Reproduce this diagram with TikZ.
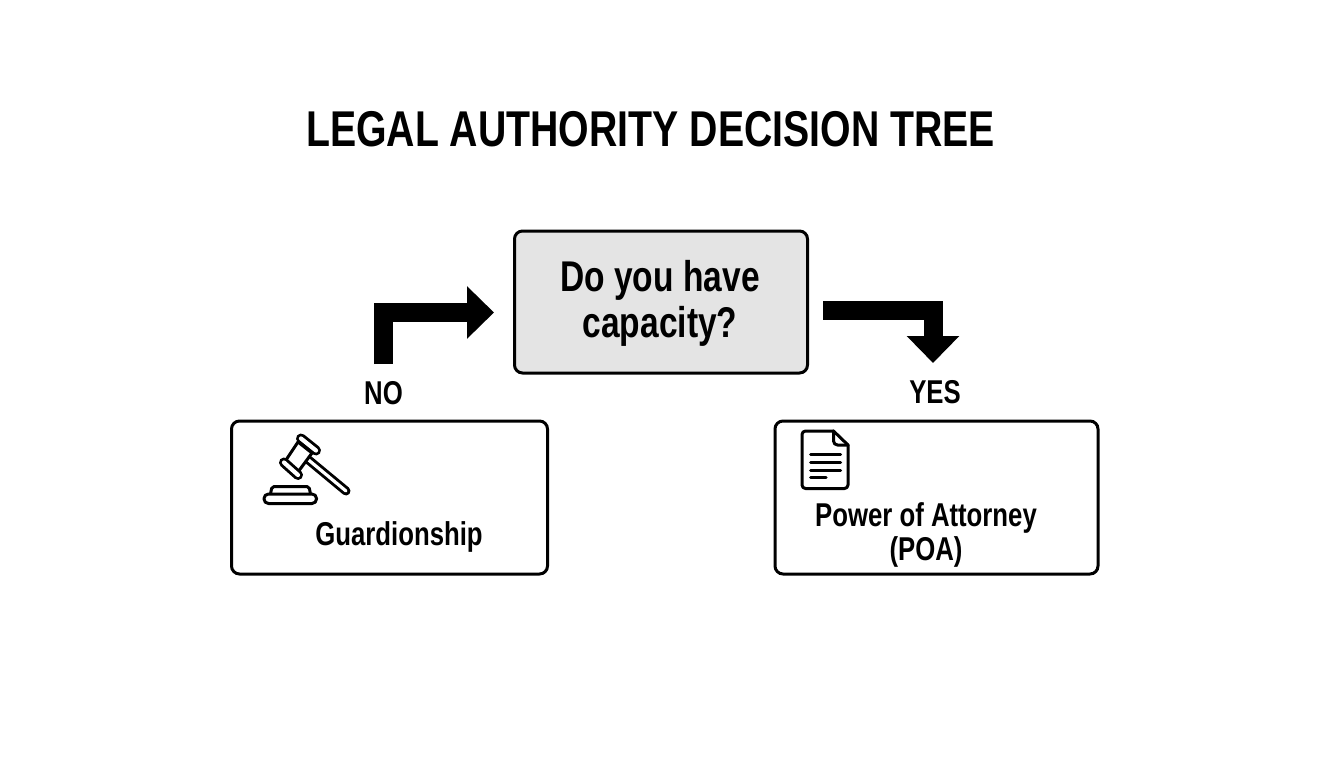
\documentclass[tikz,border=0pt]{standalone}
\usepackage{fontspec}
\setmainfont{Liberation Sans}[FakeStretch=0.78,BoldFont={Liberation Sans Bold}]
\usetikzlibrary{arrows.meta}
\definecolor{ink}{HTML}{000000}
\definecolor{qfill}{HTML}{E4E4E4}
\tikzset{
  px/.style={x=1pt,y=-1pt},
  boxbase/.style={draw=ink,line width=3pt,rounded corners=8pt,inner sep=0pt},
  qbox/.style={boxbase,fill=qfill},
  ansbox/.style={boxbase,fill=white},
  title/.style={font=\fontsize{50.3}{54}\selectfont\bfseries,text=ink,inner sep=0pt},
  qtext/.style={font=\fontsize{43}{46}\selectfont\bfseries,text=ink,align=center,inner sep=0pt},
  lab/.style={font=\fontsize{33}{36}\selectfont\bfseries,text=ink,inner sep=0pt},
  anstext/.style={font=\fontsize{33}{34}\selectfont\bfseries,text=ink,align=center,inner sep=0pt},
  bigarrow/.style={draw=ink,line width=19pt,miter limit=10,-{Triangle[width=51pt,length=27pt]}},
  icon/.style={draw=ink,line width=3pt,line join=round,line cap=round,fill=white},
  iconline/.style={draw=ink,line width=3pt,line cap=round},
}
\begin{document}
\begin{tikzpicture}[px]
\useasboundingbox (0,0) rectangle (1344,768);
\fill[white] (0,0) rectangle (1344,768);
\node[title] (ttl) at (650.5,129) {LEGAL AUTHORITY DECISION TREE};
\node[qbox,minimum width=293pt,minimum height=142pt] (q) at (661,302) {};
\node[qtext] (qt) at (660,303.5) {Do you have\\capacity?};
\node[ansbox,minimum width=316pt,minimum height=153pt] (g) at (389.5,497.5) {};
\node[ansbox,minimum width=323pt,minimum height=153pt] (p) at (936.5,497.5) {};
\node[anstext] (gt) at (399,537) {Guardionship};
\node[anstext] (pt) at (926,535) {Power of Attorney\\(POA)};
\node[lab] (no) at (383.5,393) {NO};
\node[lab] (yes) at (935,392) {YES};
\coordinate (nostart) at (383,364);
\coordinate (noend) at (494,312.5);
\coordinate (yesstart) at (823,310.5);
\coordinate (yesend) at (933,363);
\draw[bigarrow] (nostart) |- (noend);
\draw[bigarrow] (yesstart) -| (yesend);
% gavel
\draw[draw=ink,line width=9pt,line cap=round] (305,457) -- (346,491);
\draw[draw=white,line width=3.2pt,line cap=round] (305,457) -- (346,491);
\draw[icon] (298,442) -- (312,453) -- (298,472) -- (286,460) -- cycle;
\draw[draw=ink,line width=10pt,line cap=round] (301,438.5) -- (316,450.5);
\draw[draw=white,line width=4.2pt,line cap=round] (301,438.5) -- (316,450.5);
\draw[draw=ink,line width=10pt,line cap=round] (284,462.5) -- (298,475);
\draw[draw=white,line width=4.2pt,line cap=round] (284,462.5) -- (298,475);
\draw[icon,rounded corners=2pt] (270.5,494) -- (272,486.5) -- (309,486.5) -- (310.5,494);
\draw[icon,rounded corners=4.5pt] (264,494) rectangle (316.5,503.5);
% document
\draw[icon,rounded corners=3.5pt] (833.5,431) -- (802,431) -- (802,488.5) -- (848,488.5) -- (848,445);
\draw[icon,fill=none] (833.5,431) -- (848,445);
\draw[icon,fill=none,rounded corners=4pt] (833.5,431) -- (833.5,445) -- (848,445);
\draw[iconline] (810.5,454) -- (840.5,454);
\draw[iconline] (810.5,462) -- (840.5,462);
\draw[iconline] (810.5,470) -- (840.5,470);
\draw[iconline] (810.5,477.7) -- (826,477.7);
\end{tikzpicture}
\end{document}
